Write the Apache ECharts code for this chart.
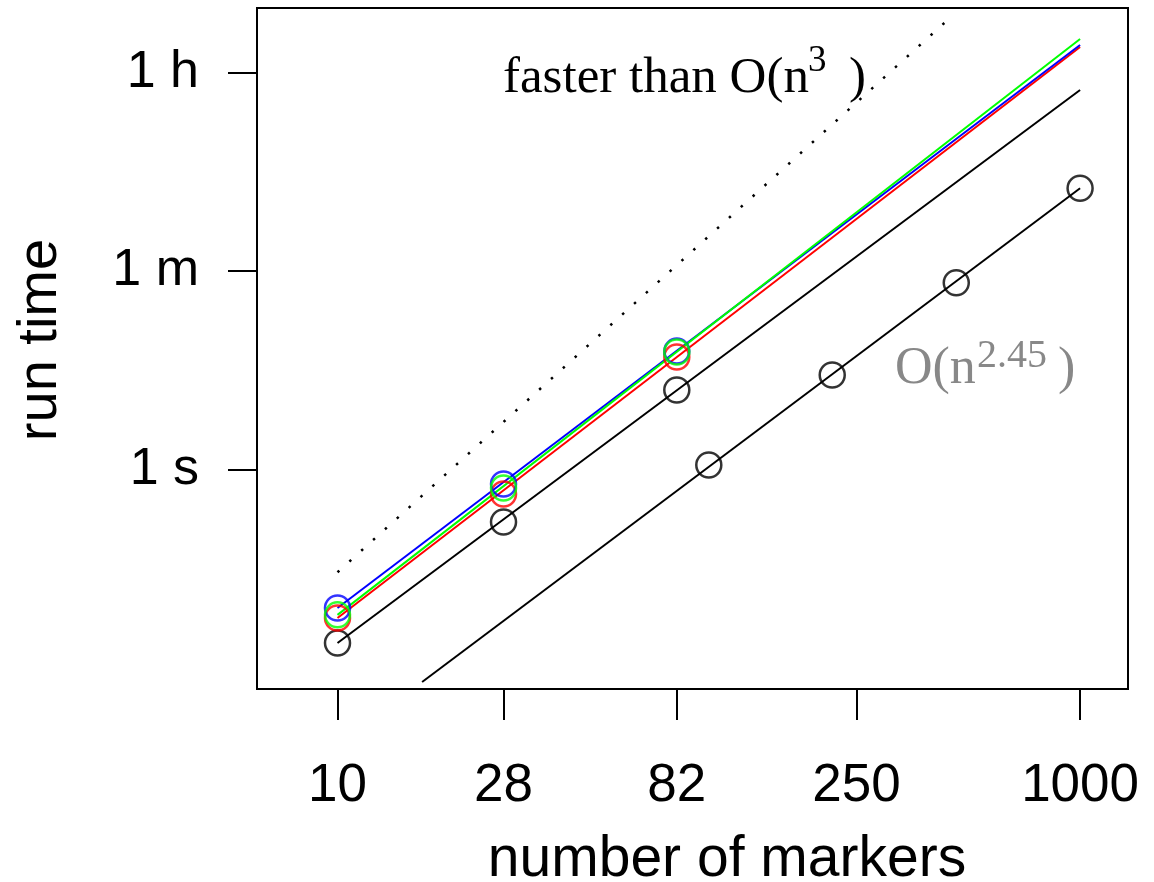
<!DOCTYPE html>
<html><head><meta charset="utf-8">
<script src="https://cdn.jsdelivr.net/npm/echarts@6/dist/echarts.min.js"></script>
<style>html,body{margin:0;padding:0;background:#fff}#c{width:1154px;height:882px}</style>
</head><body><div id="c"></div>
<script>
// ---- data ----
const markersA = [10, 28, 82];
const timeBlack = [0.0279, 0.3385, 5.16];
const timeBlue = [0.0574, 0.741, 11.5];
const timeGreen = [0.0498, 0.683, 11.3];
const timeRed = [0.0467, 0.603, 10.2];

const fitX = [10, 1000];
const fitBlack = [0.0279, 2515];
const fitBlue = [0.0574, 6363];
const fitGreen = [0.0498, 7200];
const fitRed = [0.0467, 6111];

const markersB = [100, 215, 464, 1000];
const timeB = [1.097, 7.03, 47.2, 331];
const fitBX = [16.9, 1000];
const fitB = [0.01247, 331];

const refX = [10, 455];
const refN3 = [0.12, 11800];

const xTicks = [10, 28, 82, 250, 1000];
const yTicks = [1, 60, 3600];
const yTickLabels = ['1 s', '1 m', '1 h'];

// ---- chart ----
function pairs(xs, ys) { return xs.map((x, i) => [x, ys[i]]); }
function yLabel(v) {
  let best = 0, bd = Infinity;
  yTicks.forEach((t, i) => { const d = Math.abs(Math.log(v / t)); if (d < bd) { bd = d; best = i; } });
  return yTickLabels[best];
}
const SANS = 'Liberation Sans, Arial, Helvetica, sans-serif';
const SERIF = 'Liberation Serif, Times New Roman, serif';

function fitLine(xs, ys, color, dash, w) {
  return {
    type: 'line', data: pairs(xs, ys), symbol: 'none', showSymbol: false, silent: true,
    lineStyle: { color: color, width: w || 2, type: dash || 'solid' }, z: 2
  };
}
function pts(xs, ys, color) {
  return {
    type: 'scatter', data: pairs(xs, ys), symbol: 'circle', symbolSize: 25, silent: true,
    itemStyle: { color: 'transparent', borderColor: color, borderWidth: 2.5 }, z: 3
  };
}

const chart = echarts.init(document.getElementById('c'));
chart.setOption({
  animation: false,
  backgroundColor: '#fff',
  grid: { left: 257, top: 8, right: 26, bottom: 193, show: true, borderColor: '#000', borderWidth: 2, backgroundColor: 'transparent' },
  xAxis: {
    type: 'log', logBase: 10, min: 6.07, max: 1346,
    axisLine: { show: false }, splitLine: { show: false }, minorTick: { show: false }, minorSplitLine: { show: false },
    axisTick: { show: true, inside: false, length: 31, lineStyle: { color: '#000', width: 2 }, customValues: xTicks },
    axisLabel: { customValues: xTicks, margin: 71, fontSize: 53, color: '#000', fontFamily: SANS,
      formatter: v => String(Math.round(v)) }
  },
  yAxis: {
    type: 'log', logBase: 10, min: 0.01079, max: 13650,
    axisLine: { show: false }, splitLine: { show: false }, minorTick: { show: false }, minorSplitLine: { show: false },
    axisTick: { show: true, inside: false, length: 29, lineStyle: { color: '#000', width: 2 }, customValues: yTicks },
    axisLabel: { customValues: yTicks, margin: 58, fontSize: 52, color: '#000', fontFamily: SANS, formatter: yLabel }
  },
  series: [
    fitLine(refX, refN3, '#000', [2.5, 13.5], 2.5),
    fitLine(fitBX, fitB, '#000'),
    fitLine(fitX, fitBlack, '#000'),
    fitLine(fitX, fitRed, '#ff0000'),
    fitLine(fitX, fitBlue, '#0000ff'),
    fitLine(fitX, fitGreen, '#00ff00'),
    pts(markersB, timeB, '#000'),
    pts(markersA, timeBlack, '#000'),
    pts(markersA, timeRed, '#ff0000'),
    pts(markersA, timeBlue, '#0000ff'),
    pts(markersA, timeGreen, '#00ff00')
  ],
  graphic: [
    { type: 'text', x: 41, y: 340, rotation: Math.PI / 2,
      style: { text: 'run time', fontSize: 56, fontFamily: SANS, fill: '#000', align: 'center', verticalAlign: 'middle' } },
    { type: 'text', x: 727, y: 860,
      style: { text: 'number of markers', fontSize: 57, fontFamily: SANS, fill: '#000', align: 'center', verticalAlign: 'middle' } },
    { type: 'text', x: 503, y: 79,
      style: { text: 'faster than O(n', fontSize: 51, fontFamily: SERIF, fill: '#000', align: 'left', verticalAlign: 'middle' } },
    { type: 'text', x: 808, y: 61,
      style: { text: '3', fontSize: 37, fontFamily: SERIF, fill: '#000', align: 'left', verticalAlign: 'middle' } },
    { type: 'text', x: 849, y: 79,
      style: { text: ')', fontSize: 51, fontFamily: SERIF, fill: '#000', align: 'left', verticalAlign: 'middle' } },
    { type: 'text', x: 895, y: 369,
      style: { text: 'O(n', fontSize: 52, fontFamily: SERIF, fill: '#888888', align: 'left', verticalAlign: 'middle' } },
    { type: 'text', x: 977, y: 356,
      style: { text: '2.45', fontSize: 40, fontFamily: SERIF, fill: '#888888', align: 'left', verticalAlign: 'middle' } },
    { type: 'text', x: 1058, y: 369,
      style: { text: ')', fontSize: 52, fontFamily: SERIF, fill: '#888888', align: 'left', verticalAlign: 'middle' } }
  ]
});
</script></body></html>
